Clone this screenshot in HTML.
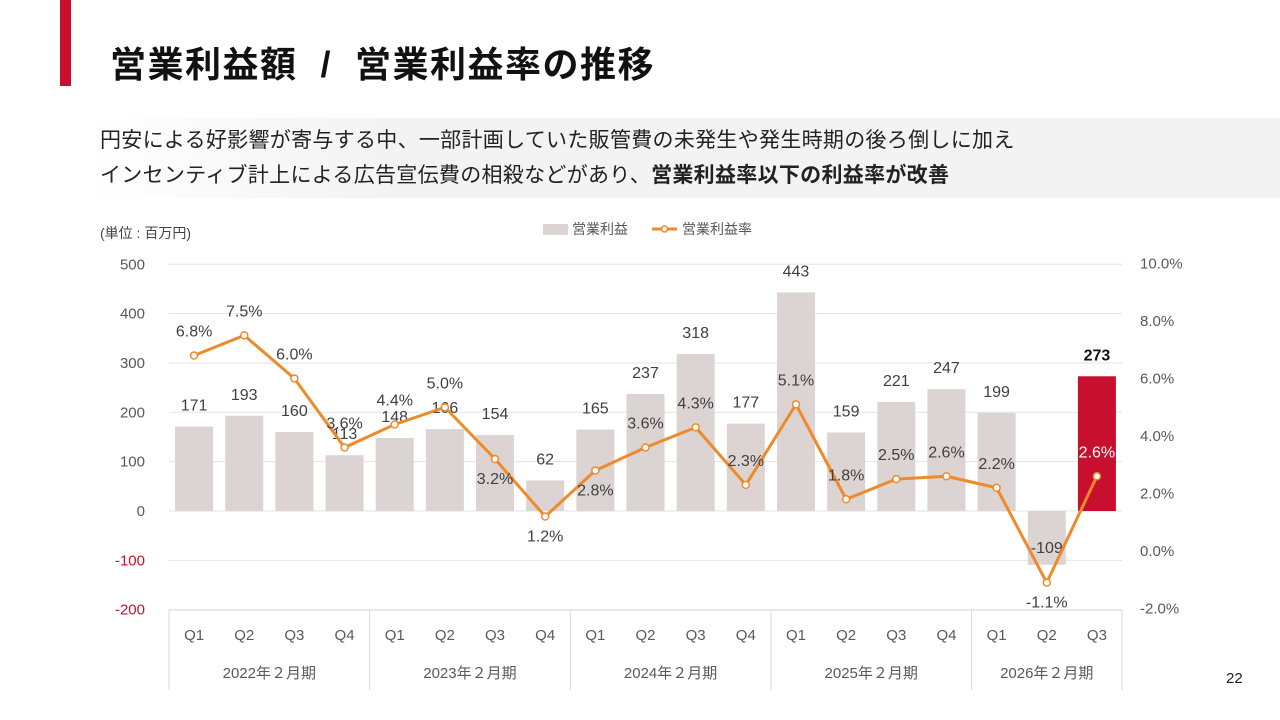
<!DOCTYPE html>
<html><head><meta charset="utf-8">
<style>
body{margin:0;width:1280px;height:720px;background:#fff;overflow:hidden;font-family:"Liberation Sans","Noto Sans CJK JP",sans-serif;position:relative}
.abs{position:absolute}
</style></head><body>
<div class="abs" style="left:60px;top:0;width:11px;height:86px;background:#c8102e"></div>
<div class="abs" style="left:110px;top:36px;font-size:36px;letter-spacing:1.5px;font-weight:bold;color:#111;white-space:nowrap">営業利益額 &nbsp;/ &nbsp;営業利益率の推移</div>
<div class="abs" style="left:88px;top:118px;width:1192px;height:80px;background:linear-gradient(90deg,#fff 0%,#f3f3f3 25%,#f3f3f3 100%)"></div>
<div class="abs" style="left:100px;top:123px;font-size:21px;letter-spacing:0.3px;line-height:35px;color:#222;white-space:nowrap">円安による好影響が寄与する中、一部計画していた販管費の未発生や発生時期の後ろ倒しに加え<br>インセンティブ計上による広告宣伝費の相殺などがあり、<b>営業利益率以下の利益率が改善</b></div>
<div class="abs" style="left:100px;top:223px;font-size:14px;color:#444">(単位 : 百万円)</div>
<div class="abs" style="left:1226px;top:670px;font-size:15px;color:#222">22</div>
<svg id="chart" class="abs" style="left:0;top:0" width="1280" height="720"></svg>
<script>
const categories=["Q1","Q2","Q3","Q4","Q1","Q2","Q3","Q4","Q1","Q2","Q3","Q4","Q1","Q2","Q3","Q4","Q1","Q2","Q3"];
const years=["2022年２月期","2023年２月期","2024年２月期","2025年２月期","2026年２月期"];
const yearCounts=[4,4,4,4,3];
const profit=[171,193,160,113,148,166,154,62,165,237,318,177,443,159,221,247,199,-109,273];
const rate=[6.8,7.5,6.0,3.6,4.4,5.0,3.2,1.2,2.8,3.6,4.3,2.3,5.1,1.8,2.5,2.6,2.2,-1.1,2.6];
const leftTicks=[500,400,300,200,100,0,-100,-200];
const rightTicks=[10,8,6,4,2,0,-2];
const rateBelow=[6,7,8,17];
const NS="http://www.w3.org/2000/svg";
const svg=document.getElementById('chart');
const X0=169,X1=1122,step=(X1-X0)/categories.length;
const xc=i=>X0+step*(i+0.5);
const yL=v=>511-v*0.4935;
const yR=v=>551-v*28.75;
function mk(tag,attrs,txt){const e=document.createElementNS(NS,tag);for(const k in attrs)e.setAttribute(k,attrs[k]);if(txt!==undefined)e.textContent=txt;svg.appendChild(e);return e;}
leftTicks.forEach(t=>{
 const g=mk('line',{x1:X0,x2:X1,y1:yL(t),y2:yL(t),stroke:'#e3e3e3','stroke-width':1});
 
 
 const l=mk('text',{x:145,y:yL(t)+5,'text-anchor':'end','font-size':15,fill:t<0?'#c8102e':'#595959'},String(t));
 
 
});
rightTicks.forEach(t=>{
 const l=mk('text',{x:1140,y:yR(t)+5,'font-size':15,fill:'#595959'},t.toFixed(1)+'%');
 
 
});
const axTop=610,axBot=690;
let b=mk('line',{x1:X0,x2:X1,y1:axTop,y2:axTop,stroke:'#d9d9d9'});


let idx=0;
years.forEach((y,j)=>{
 const s=X0+step*idx, e=X0+step*(idx+yearCounts[j]);
 const sep=mk('line',{x1:s,x2:s,y1:axTop,y2:axBot,stroke:'#d9d9d9'});
 
 
 const yl=mk('text',{x:(s+e)/2,y:678,'text-anchor':'middle','font-size':15,fill:'#595959'},y);
 
 
 idx+=yearCounts[j];
});
b=mk('line',{x1:X1,x2:X1,y1:axTop,y2:axBot,stroke:'#d9d9d9'});


categories.forEach((c,i)=>{
 const t=mk('text',{x:xc(i),y:640,'text-anchor':'middle','font-size':15,fill:'#595959'},c);
 
 
});
const bw=38;
profit.forEach((v,i)=>{
 const last=i===profit.length-1;
 const y1=yL(Math.max(v,0)),y2=yL(Math.min(v,0));
 const r=mk('rect',{x:xc(i)-bw/2,y:y1,width:bw,height:y2-y1,fill:last?'#c8102e':'#dcd3d3'});
 
 
 const ly=v>=0?yL(v)-16:yL(v)-12;
 const t=mk('text',{x:xc(i),y:ly,'text-anchor':'middle','font-size':16,fill:last?'#111':'#404040','font-weight':last?'bold':'normal'},String(v));
 
 
});
const pts=rate.map((v,i)=>xc(i)+','+yR(v)).join(' ');
const pl=mk('polyline',{points:pts,fill:'none',stroke:'#ee8a2a','stroke-width':3,'stroke-linejoin':'round'});


rate.forEach((v,i)=>{
 const c=mk('circle',{cx:xc(i),cy:yR(v),r:3.5,fill:'#fff',stroke:'#ee8a2a','stroke-width':1.5});
 
 
 const below=rateBelow.includes(i);
 const last=i===rate.length-1;
 const t=mk('text',{x:xc(i),y:below?yR(v)+25:yR(v)-19,'text-anchor':'middle','font-size':16,fill:last?'#fff':'#404040'},v.toFixed(1)+'%');
 
 
});
let lg=mk('rect',{x:543,y:224,width:25,height:11,fill:'#dcd3d3'});


lg=mk('text',{x:572,y:234,'font-size':14,fill:'#595959'},'営業利益');


lg=mk('line',{x1:652,x2:677,y1:229,y2:229,stroke:'#ee8a2a','stroke-width':3});


lg=mk('circle',{cx:664.5,cy:229,r:3,fill:'#fff',stroke:'#ee8a2a','stroke-width':1.5});


lg=mk('text',{x:682,y:234,'font-size':14,fill:'#595959'},'営業利益率');


</script>
</body></html>
